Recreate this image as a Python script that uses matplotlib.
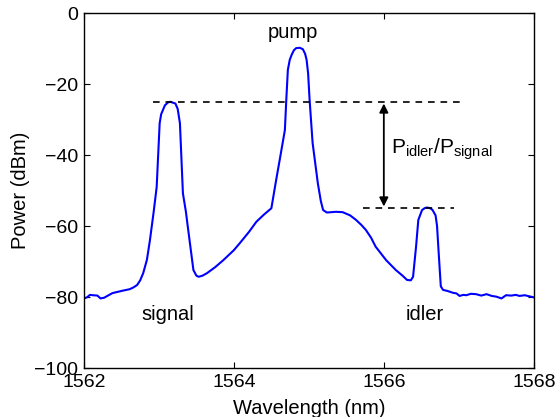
import matplotlib
matplotlib.use("Agg")
import matplotlib.pyplot as plt

plt.rcParams['font.family'] = ['Liberation Sans', 'DejaVu Sans']
plt.rcParams['mathtext.fontset'] = 'custom'
plt.rcParams['mathtext.rm'] = 'Liberation Sans'
plt.rcParams['mathtext.it'] = 'Liberation Sans'

# spectrum (wavelength in nm, power in dBm)
wavelength = [1562.00, 1562.04, 1562.08, 1562.12, 1562.18, 1562.22, 1562.27, 1562.32,
              1562.38, 1562.44, 1562.52, 1562.61, 1562.66, 1562.71, 1562.75, 1562.79,
              1562.84, 1562.88, 1562.93, 1562.97, 1563.01, 1563.03, 1563.08, 1563.12,
              1563.15, 1563.22, 1563.25, 1563.28, 1563.32, 1563.36, 1563.39, 1563.46,
              1563.50, 1563.53, 1563.58, 1563.64, 1563.75, 1563.86, 1564.00, 1564.08,
              1564.20, 1564.30, 1564.40, 1564.50, 1564.56, 1564.61, 1564.68, 1564.70,
              1564.72, 1564.745, 1564.77, 1564.80, 1564.83, 1564.88, 1564.92, 1564.95,
              1564.97, 1564.99, 1565.01, 1565.05, 1565.12, 1565.16, 1565.19, 1565.24,
              1565.36, 1565.45, 1565.55,
              1565.63, 1565.70, 1565.76, 1565.83, 1565.89, 1566.03, 1566.16, 1566.25,
              1566.31, 1566.36, 1566.39, 1566.43, 1566.46, 1566.51, 1566.55, 1566.58,
              1566.62, 1566.65, 1566.69, 1566.71, 1566.73, 1566.76, 1566.79, 1566.85,
              1566.92, 1566.97, 1567.01, 1567.06, 1567.10, 1567.16, 1567.23, 1567.30,
              1567.37, 1567.44, 1567.50, 1567.57, 1567.63, 1567.70, 1567.76, 1567.81,
              1567.88, 1567.94, 1568.00]
power = [-80.4, -80.1, -79.4, -79.5, -79.6, -80.4, -80.2, -79.6,
         -78.9, -78.6, -78.2, -77.8, -77.3, -76.6, -75.3, -73.3,
         -69.5, -64.0, -56.0, -49.0, -31.0, -28.5, -26.0, -25.2,
         -25.0, -25.5, -27.0, -31.0, -50.8, -56.0, -61.0, -72.4,
         -74.0, -74.3, -74.0, -73.3, -71.6, -69.6, -66.8, -64.8,
         -61.7, -58.8, -56.8, -55.0, -47.5, -41.5, -33.0, -24.0,
         -16.0, -13.2, -11.8, -10.5, -9.9, -9.8, -10.2, -11.5,
         -13.2, -17.0, -24.5, -36.6, -48.0, -53.0, -55.5, -56.2,
         -56.0, -56.1, -57.0,
         -58.3, -59.7, -61.1, -63.3, -65.8, -69.6, -72.4, -74.0,
         -75.2, -75.3, -74.3, -65.8, -58.3, -55.5, -54.9, -54.8,
         -55.0, -55.5, -57.0, -60.0, -67.0, -77.0, -78.0, -78.3,
         -78.8, -79.0, -79.7, -79.4, -79.5, -79.1, -79.2, -79.6,
         -79.2, -79.7, -79.9, -80.4, -79.5, -79.6, -79.4, -79.7,
         -79.5, -79.8, -80.1]

# reference levels of the signal and idler peaks
signal_level = -25
idler_level = -55
signal_dash = [1562.92, 1567.04]
idler_dash = [1565.72, 1566.94]
arrow_x = 1566.0

fig = plt.figure(figsize=(5.56, 4.17), dpi=100)
ax = fig.add_axes([0.151, 0.1175, 0.809, 0.8513])

ax.plot(wavelength, power, color='#0000ff', lw=1.5)
ax.plot(signal_dash, [signal_level, signal_level], 'k--', lw=1.2, dashes=(4, 3.5))
ax.plot(idler_dash, [idler_level, idler_level], 'k--', lw=1.2, dashes=(4, 3.5))

ax.annotate('', xy=(arrow_x, idler_level + 0.5), xytext=(arrow_x, signal_level - 0.5),
            arrowprops=dict(arrowstyle='<|-|>', color='k', lw=1.3,
                            mutation_scale=13, shrinkA=0, shrinkB=0))

ax.text(1564.79, -5.4, 'pump', fontsize=14.5, ha='center', va='center')
ax.text(1563.12, -85, 'signal', fontsize=14.5, ha='center', va='center')
ax.text(1566.54, -85, 'idler', fontsize=14.5, ha='center', va='center')
ax.text(1566.1, -38.5, r'$\mathrm{P_{idler}/P_{signal}}$', fontsize=15,
        ha='left', va='center')

ax.set_xlim(1562, 1568)
ax.set_ylim(-100, 0)
ax.set_xticks([1562, 1564, 1566, 1568])
ax.set_yticks([-100, -80, -60, -40, -20, 0])
ax.set_xticklabels(['1562', '1564', '1566', '1568'])
ax.set_yticklabels(['\u2212100', '\u221280', '\u221260', '\u221240', '\u221220', '0'])
ax.tick_params(direction='in', top=True, right=True, length=4, width=0.8,
               labelsize=14, pad=4)
for s in ax.spines.values():
    s.set_linewidth(1.0)

ax.set_xlabel('Wavelength (nm)', fontsize=14.5, labelpad=6)
ax.set_ylabel('Power (dBm)', fontsize=14.5, labelpad=3)

fig.savefig('out.png', dpi=100)
